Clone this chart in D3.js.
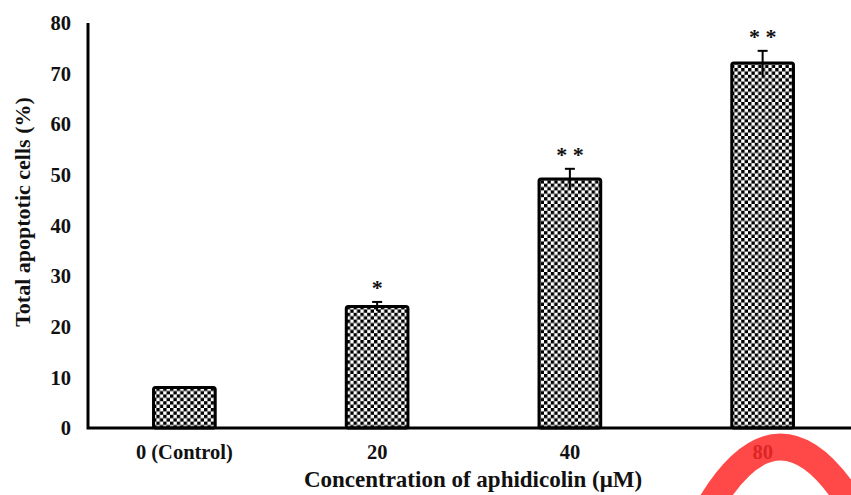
<!DOCTYPE html>
<html>
<head>
<meta charset="utf-8">
<script src="https://cdn.jsdelivr.net/npm/d3@7"></script>
<style>
  body { margin: 0; background: #fff; }
  text { font-family: "Liberation Serif", "Times New Roman", serif; font-weight: bold; fill: #111; }
</style>
</head>
<body>
<div id="chart"></div>
<script>
const categories = ['0 (Control)', '20', '40', '80'];
const values = [8, 24, 49.2, 72.1];
const errors = [0, 0.9, 2, 2.4];
const marks = ['', '*', '* *', '* *'];
const yTicks = [0, 10, 20, 30, 40, 50, 60, 70, 80];

const rows = categories.map((c, i) => ({ cat: c, v: values[i], e: errors[i], m: marks[i] }));

const w = 851;
const h = 495;

const svg = d3.select('#chart')
  .append('svg')
    .attr('width', w)
    .attr('height', h);

// checkerboard fill
const cell = 3.4;
const pat = svg.append('defs')
  .append('pattern')
    .attr('id', 'checks')
    .attr('patternUnits', 'userSpaceOnUse')
    .attr('width', cell * 2)
    .attr('height', cell * 2);
pat.append('rect').attr('width', cell * 2).attr('height', cell * 2).attr('fill', '#fff');
pat.append('rect').attr('width', cell).attr('height', cell).attr('fill', '#000');
pat.append('rect').attr('x', cell).attr('y', cell).attr('width', cell).attr('height', cell).attr('fill', '#000');

const x = d3.scaleBand()
  .domain(categories)
  .range([88, 859])
  .paddingInner(0.68)
  .paddingOuter(0.34);

const y = d3.scaleLinear()
  .domain([0, 80])
  .range([428, 23]);

// y tick labels
svg.append('g')
  .selectAll('text')
  .data(yTicks)
  .enter()
  .append('text')
    .attr('x', 71)
    .attr('y', d => y(d))
    .attr('dy', '0.35em')
    .attr('text-anchor', 'end')
    .style('font-size', '20.5px')
    .text(d => d);

// bars
svg.append('g')
  .selectAll('rect')
  .data(rows)
  .enter()
  .append('rect')
    .attr('x', d => x(d.cat))
    .attr('y', d => y(d.v))
    .attr('width', x.bandwidth())
    .attr('height', d => y(0) - y(d.v))
    .attr('rx', 2)
    .attr('fill', 'url(#checks)')
    .attr('stroke', '#000')
    .attr('stroke-width', 3);

// error bars + significance marks
const eb = svg.append('g')
  .selectAll('g')
  .data(rows)
  .enter()
  .append('g')
    .attr('transform', d => `translate(${x(d.cat) + x.bandwidth() / 2}, 0)`);

const withErr = eb.filter(d => d.e > 0);

withErr.append('line')
    .attr('x1', 0).attr('x2', 0)
    .attr('y1', d => y(d.v - d.e))
    .attr('y2', d => y(d.v + d.e))
    .attr('stroke', '#000')
    .attr('stroke-width', 2);

withErr.append('line')
    .attr('x1', -5).attr('x2', 5)
    .attr('y1', d => y(d.v + d.e))
    .attr('y2', d => y(d.v + d.e))
    .attr('stroke', '#000')
    .attr('stroke-width', 2);

eb.append('text')
    .attr('text-anchor', 'middle')
    .attr('y', d => y(d.v + d.e) - 7)
    .style('font-size', '22px')
    .text(d => d.m);

// axes lines
svg.append('path')
    .attr('d', `M88,${y(80)} V${y(0)} H${w}`)
    .attr('fill', 'none')
    .attr('stroke', '#000')
    .attr('stroke-width', 3);

// x tick labels
svg.append('g')
  .selectAll('text')
  .data(categories)
  .enter()
  .append('text')
    .attr('x', d => x(d) + x.bandwidth() / 2)
    .attr('y', 459)
    .attr('text-anchor', 'middle')
    .style('font-size', '20.5px')
    .text(d => d);

// axis titles
svg.append('text')
    .attr('x', 473)
    .attr('y', 487)
    .attr('text-anchor', 'middle')
    .style('font-size', '23px')
    .text('Concentration of aphidicolin (μM)');

svg.append('text')
    .attr('transform', 'translate(30, 212) rotate(-90)')
    .attr('text-anchor', 'middle')
    .style('font-size', '22px')
    .text('Total apoptotic cells (%)');

// red overlay stroke
svg.append('path')
    .attr('d', 'M712,502 Q780,392 850,502')
    .attr('fill', 'none')
    .attr('stroke', 'rgb(255,40,40)')
    .attr('stroke-opacity', 0.85)
    .attr('stroke-width', 27);
</script>
</body>
</html>
